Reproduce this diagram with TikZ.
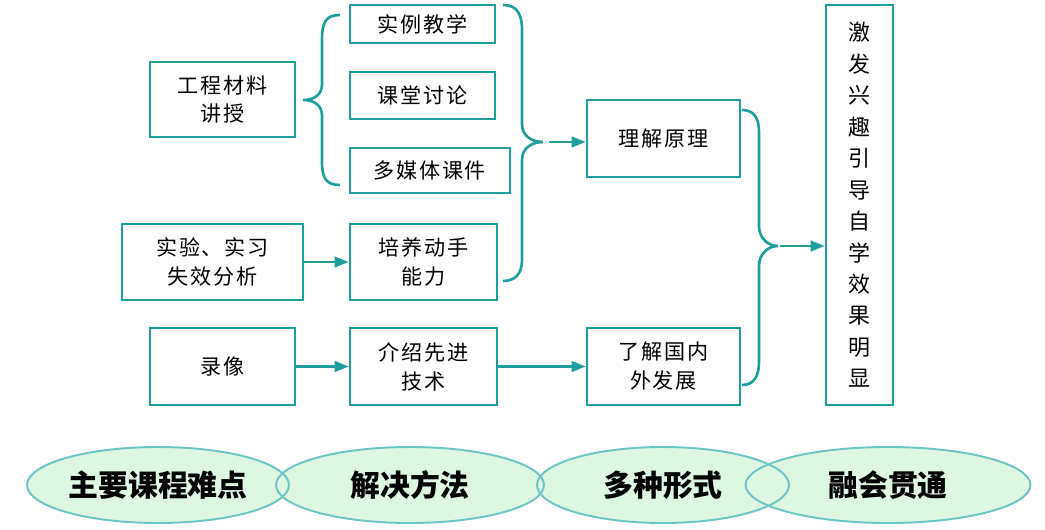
\documentclass[tikz,border=0pt]{standalone}
\usepackage{fontspec}
\usepackage{tikz}
\usetikzlibrary{arrows.meta, shapes.geometric}
\newfontfamily\cjk[LetterSpace=8]{Noto Sans CJK SC}
\newfontfamily\cjkbig{Noto Sans CJK SC}
\definecolor{lineteal}{HTML}{1F9E9E}
\definecolor{ovalfill}{HTML}{DDF7E3}
\definecolor{ovalborder}{HTML}{6CC4C4}
\tikzset{
    stepbox/.style={
        rectangle, draw=lineteal, fill=white, line width=1.5pt,
        align=center, inner sep=2pt,
        font=\cjk\fontsize{12}{16.5}\selectfont
    },
    brace/.style={
        draw=lineteal, line width=1.5pt
    },
    oval/.style={
        ellipse, fill=ovalfill, minimum height=1.52cm, inner sep=0pt
    },
    ovalline/.style={
        ellipse, draw=ovalborder, line width=1.1pt, minimum height=1.52cm, inner sep=0pt,
        font=\cjkbig\bfseries\fontsize{17}{20}\selectfont
    },
    arr/.style={
        -{Triangle[length=8pt, width=6pt]}, line width=1.5pt, color=lineteal
    }
}
\begin{document}
\begin{tikzpicture}[x=0.02cm, y=-0.02cm]
    \useasboundingbox (0,0) rectangle (1045,530);

    % Nodes
    \node[stepbox, minimum width=2.9cm, minimum height=1.5cm] (gc) at (222.5,99.5) {工程材料\\讲授};
    \node[stepbox, minimum width=2.9cm, minimum height=0.76cm] (sl) at (422.5,24) {实例教学};
    \node[stepbox, minimum width=2.9cm, minimum height=0.94cm] (tl) at (422.5,95.5) {课堂讨论};
    \node[stepbox, minimum width=3.2cm, minimum height=0.9cm] (dmt) at (430,170.5) {多媒体课件};
    \node[stepbox, minimum width=3.62cm, minimum height=1.52cm] (sy) at (212.5,262) {实验、实习\\失效分析};
    \node[stepbox, minimum width=2.94cm, minimum height=1.52cm] (py) at (423.5,262) {培养动手\\能力};
    \node[stepbox, minimum width=2.9cm, minimum height=1.54cm] (lx) at (222.5,366.5) {录像};
    \node[stepbox, minimum width=2.94cm, minimum height=1.54cm] (js) at (423.5,366.5) {介绍先进\\技术};
    \node[stepbox, minimum width=3.06cm, minimum height=1.54cm] (yl) at (663.5,138.5) {理解原理};
    \node[stepbox, minimum width=3.06cm, minimum height=1.54cm] (fz) at (663.5,366.5) {了解国内\\外发展};
    \node[stepbox, minimum width=1.34cm, minimum height=8cm,
          font=\cjkbig\fontsize{12.5}{17.9}\selectfont] (xg) at (859.5,205)
          {激\\发\\兴\\趣\\引\\导\\自\\学\\效\\果\\明\\显};

    % Braces
    \draw[brace] (340,15) .. controls (326,15) and (322,22) .. (322,40) -- (322,84)
        .. controls (322,95) and (314,100) .. (303,100)
        .. controls (314,100) and (322,105) .. (322,116) -- (322,162)
        .. controls (322,178) and (326,185) .. (340,185);
    \draw[brace] (503,5) .. controls (517,5) and (522,14) .. (522,30) -- (522,124)
        .. controls (522,136) and (532,142) .. (543,142)
        .. controls (532,142) and (522,148) .. (522,160) -- (522,260)
        .. controls (522,274) and (515,281) .. (503,281);
    \draw[brace] (742,110) .. controls (754,110) and (759,118) .. (759,132) -- (759,226)
        .. controls (759,238) and (768,246) .. (778,246)
        .. controls (768,246) and (759,254) .. (759,266) -- (759,362)
        .. controls (759,376) and (754,385) .. (742,385);
    \coordinate (tipa) at (549,142);
    \coordinate (tipb) at (780,246);

    % Edges
    \draw[arr] (tipa) -- (tipa -| yl.west);
    \draw[arr] (tipb) -- (tipb -| xg.west);
    \draw[arr] (sy) -- (py);
    \draw[arr] (lx) -- (js);
    \draw[arr] (js) -- (fz);

    % Bottom ovals
    \node[oval, minimum width=5.24cm] at (158,485) {};
    \node[oval, minimum width=5.36cm] at (410,485) {};
    \node[oval, minimum width=5.04cm] at (663,485) {};
    \node[oval, minimum width=5.7cm] at (888,485) {};
    \node[ovalline, minimum width=5.24cm] (nd) at (158,485) {主要课程难点};
    \node[ovalline, minimum width=5.36cm] (ff) at (410,485) {解决方法};
    \node[ovalline, minimum width=5.04cm] (xs) at (663,485) {多种形式};
    \node[ovalline, minimum width=5.7cm] (gt) at (888,485) {融会贯通};

\end{tikzpicture}
\end{document}
